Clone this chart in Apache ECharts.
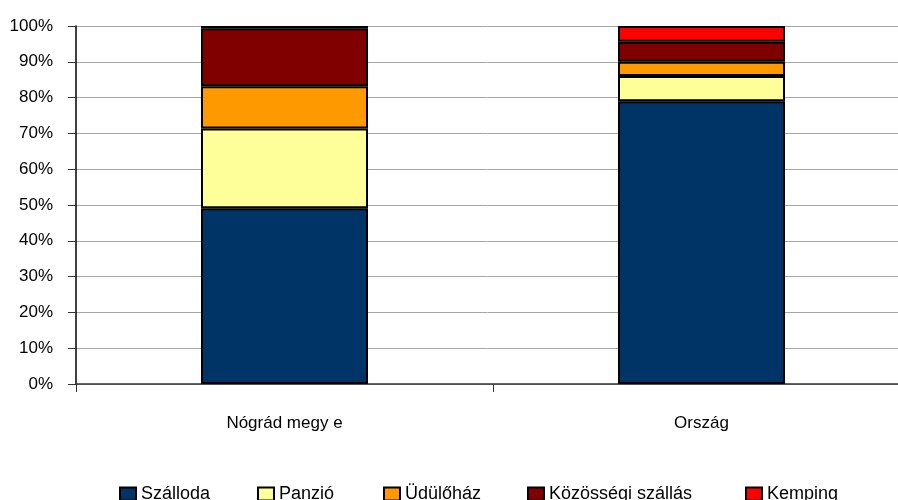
<!DOCTYPE html>
<html>
<head>
<meta charset="utf-8">
<script src="https://cdn.jsdelivr.net/npm/echarts@6/dist/echarts.min.js"></script>
<style>
  html, body { margin: 0; padding: 0; background: #fff; }
  #chart { width: 898px; height: 500px; }
</style>
</head>
<body>
<div id="chart"></div>
<script>
// adatok (százalék)
const categories = ['Nógrád megy e', 'Ország'];
const szalloda = [49.1, 79.0];
const panzio = [22.3, 7.0];
const udulohaz = [11.8, 4.0];
const kozossegi = [16.2, 5.6];
const kemping = [0.6, 4.4];
const yTicks = [0, 10, 20, 30, 40, 50, 60, 70, 80, 90, 100];

const seriesNames = ['Szálloda', 'Panzió', 'Üdülőház', 'Közösségi szállás', 'Kemping'];
const seriesData = [szalloda, panzio, udulohaz, kozossegi, kemping];
const colors = ['#003366', '#FFFF99', '#FF9900', '#800000', '#FF0000'];
const legendLeft = [119, 257, 383, 527, 745];

const font = '"Liberation Sans", Arial, sans-serif';

const chart = echarts.init(document.getElementById('chart'));

chart.setOption({
  animation: false,
  grid: {
    left: 76,
    top: 26,
    right: -12,
    bottom: 116,
    containLabel: false,
    outerBoundsMode: 'none'
  },
  // egy legenda elemenként, hogy a helyük egyezzen
  legend: seriesNames.map((name, i) => ({
    data: [name],
    left: legendLeft[i],
    top: 485,
    icon: 'rect',
    itemWidth: 16,
    itemHeight: 13,
    selectedMode: false,
    padding: 0,
    textStyle: { fontFamily: font, fontSize: 18, color: '#000' }
  })),
  xAxis: {
    type: 'category',
    data: categories,
    boundaryGap: true,
    axisLine: { show: true, lineStyle: { color: '#333', width: 1.5 } },
    axisTick: { show: true, alignWithLabel: false, length: 8, lineStyle: { color: '#333' } },
    axisLabel: { fontFamily: font, fontSize: 17, color: '#000', margin: 31 },
    splitLine: { show: false }
  },
  yAxis: {
    type: 'value',
    min: yTicks[0],
    max: yTicks[yTicks.length - 1],
    interval: 10,
    axisLine: { show: true, lineStyle: { color: '#000', width: 1.5 } },
    axisTick: { show: true, length: 8, lineStyle: { color: '#333' } },
    axisLabel: { fontFamily: font, fontSize: 17, color: '#000', margin: 23, formatter: '{value}%' },
    splitLine: { show: true, lineStyle: { color: '#a6a6a6', width: 1 } }
  },
  series: seriesNames.map((name, i) => ({
    name: name,
    type: 'bar',
    stack: 'total',
    barWidth: 167,
    data: seriesData[i],
    itemStyle: { color: colors[i], borderColor: '#000', borderWidth: 2 }
  }))
});
</script>
</body>
</html>
